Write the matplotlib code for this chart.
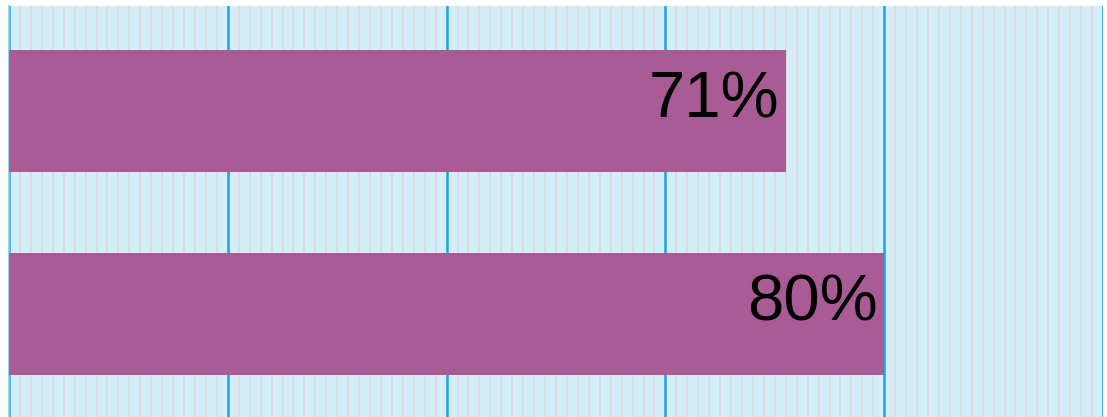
import matplotlib.pyplot as plt
import numpy as np

categories = ["A", "B"]
values = [71, 80]
labels = ["71%", "80%"]

fig = plt.figure(figsize=(11.07, 4.17), dpi=100)
ax = fig.add_axes([9 / 1107, 0, 1094 / 1107, 411 / 417])

ypos = np.arange(len(categories))
ax.barh(ypos, values, height=0.6, color="#a85b95", zorder=3)

for y, v, lab in zip(ypos, values, labels):
    ax.text(v - 0.6, y - 0.05, lab, ha="right", va="center",
            fontsize=47, family="Liberation Sans", color="black", zorder=4)

ax.set_xlim(0, 100)
ax.set_ylim(-0.514 + 411 / 203.5, -0.514)
ax.set_facecolor("#d3eef8")
ax.set_xticks(np.arange(0, 101, 20))
ax.set_xticks(np.arange(0, 101, 1), minor=True)
ax.grid(which="minor", axis="x", color="#dcdadf", linewidth=1.3, zorder=1)
ax.grid(which="major", axis="x", color="#1aa3dd", linewidth=1.8, zorder=2)
ax.tick_params(which="both", length=0, labelbottom=False, labelleft=False)
for s in ["top", "right", "bottom"]:
    ax.spines[s].set_visible(False)
ax.spines["left"].set_color("#8fcbe3")
ax.spines["left"].set_linewidth(1.2)

fig.savefig("out.png", dpi=100)
